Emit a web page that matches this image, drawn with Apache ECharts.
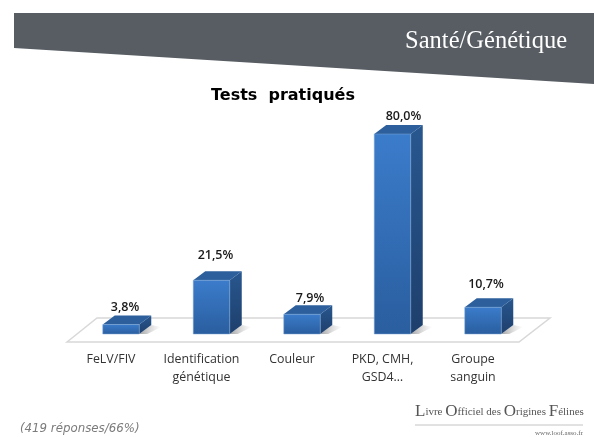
<!DOCTYPE html>
<html><head><meta charset="utf-8">
<style>html,body{margin:0;padding:0;background:#fff}#c{width:594px;height:437px}</style>
<script src="https://cdn.jsdelivr.net/npm/echarts@6/dist/echarts.min.js"></script>
</head><body><div id="c"></div>
<script>
const categories = ['FeLV/FIV', 'Identification\ngénétique', 'Couleur', 'PKD, CMH,\nGSD4…', 'Groupe\nsanguin'];
const values = [3.8, 21.5, 7.9, 80.0, 10.7];
const chartTitle = 'Tests  pratiqués';
const sectionTitle = 'Santé/Génétique';
const footnote = '(419 réponses/66%)';

const labelDx = [4, 4, 8, 11, 3];
const labelLift = [8, 16, 7, 9, 14];
const G = {left: 65.75, width: 452.5, top: 134, height: 200};
const barW = 36.5, depthX = 12, depthY = 9, barShift = 10;
const grad = (a, b) => ({type: 'linear', x: 0, y: 0, x2: 0, y2: 1, colorStops: [{offset: 0, color: a}, {offset: 1, color: b}]});
const font = '"Open Sans", sans-serif';

function renderBar(params, api) {
  const i = api.value(0);
  const top = api.coord([i, api.value(1)]);
  const base = api.coord([i, 0]);
  const x0 = top[0] + barShift - barW / 2, x1 = x0 + barW;
  const yT = top[1], yB = base[1];
  return {type: 'group', children: [
    {type: 'polygon', shape: {points: [[x1, yB], [x1 + depthX, yB - depthY], [x1 + depthX + 10, yB - depthY + 2], [x1 + 8, yB]]},
      style: {fill: {type: 'linear', x: 0, y: 0, x2: 1, y2: 0, colorStops: [{offset: 0, color: 'rgba(70,70,70,0.5)'}, {offset: 1, color: 'rgba(140,140,140,0)'}]}}},
    {type: 'polygon', shape: {points: [[x1, yT], [x1 + depthX, yT - depthY], [x1 + depthX, yB - depthY], [x1, yB]]},
      style: {fill: grad('#28578f', '#1e3f6c')}},
    {type: 'polygon', shape: {points: [[x0, yT], [x0 + depthX, yT - depthY], [x1 + depthX, yT - depthY], [x1, yT]]},
      style: {fill: '#2c5f9c'}},
    {type: 'rect', shape: {x: x0, y: yT, width: barW, height: yB - yT},
      style: {fill: grad('#3b7ccb', '#2a5e9f'), stroke: '#7fa6d4', lineWidth: 0.5}},
    {type: 'text', style: {
      x: top[0] + barShift + labelDx[i], y: yT - depthY - labelLift[i],
      text: values[i].toFixed(1).replace('.', ',') + '%',
      fill: '#1a1a1a', font: '600 12.5px ' + font, align: 'center', verticalAlign: 'middle'}}
  ]};
}

const chart = echarts.init(document.getElementById('c'), null, {renderer: 'canvas'});
chart.setOption({
  animation: false,
  backgroundColor: '#fff',
  title: [{text: chartTitle, left: 206, top: 83, textStyle: {fontFamily: '"DejaVu Sans"', fontWeight: 'bold', fontSize: 16, color: '#000'}}],
  grid: {left: G.left, width: G.width, top: G.top, height: G.height, containLabel: false},
  xAxis: {type: 'category', data: categories,
    axisLine: {show: false}, axisTick: {show: false}, splitLine: {show: false},
    axisLabel: {margin: 16, fontFamily: font, fontSize: 12.4, lineHeight: 18, color: '#333', interval: 0}},
  yAxis: {type: 'value', min: 0, max: 80, show: false},
  graphic: [
    {type: 'polygon', z: 0, shape: {points: [[14, 13], [594, 13], [594, 84], [14, 48]]}, style: {fill: '#575d63'}},
    {type: 'text', z: 1, style: {x: 567, y: 42, text: sectionTitle, fill: '#fff', font: '24.5px "Liberation Serif"', align: 'right', verticalAlign: 'middle'}},
    {type: 'polygon', z: 0, shape: {points: [[67, 342], [97, 318], [550, 318], [519, 342]]}, style: {fill: '#fff', stroke: '#d8d8d8', lineWidth: 1.5}},
    {type: 'text', z: 1, style: {x: 20, y: 429, text: footnote, fill: '#7b7b7b', font: 'italic 11.8px "DejaVu Sans"', verticalAlign: 'middle'}},
    {type: 'text', z: 1, style: {x: 415, y: 412, text: '{b|L}{s|ivre }{b|O}{s|fficiel des }{b|O}{s|rigines }{b|F}{s|élines}', verticalAlign: 'middle',
      rich: {b: {font: '17px "Liberation Serif"', fill: '#555'}, s: {font: '11px "Liberation Serif"', fill: '#555'}}}},
    {type: 'line', z: 1, shape: {x1: 415, y1: 425, x2: 583, y2: 425}, style: {stroke: '#c4c4c4', lineWidth: 1}},
    {type: 'text', z: 1, style: {x: 583, y: 433.5, text: 'www.loof.asso.fr', fill: '#666', font: '7px "Liberation Serif"', align: 'right', verticalAlign: 'middle'}}
  ],
  series: [{type: 'custom', clip: false, renderItem: renderBar,
    encode: {x: 0, y: 1},
    data: values.map((v, i) => [i, v])}]
});
</script></body></html>
